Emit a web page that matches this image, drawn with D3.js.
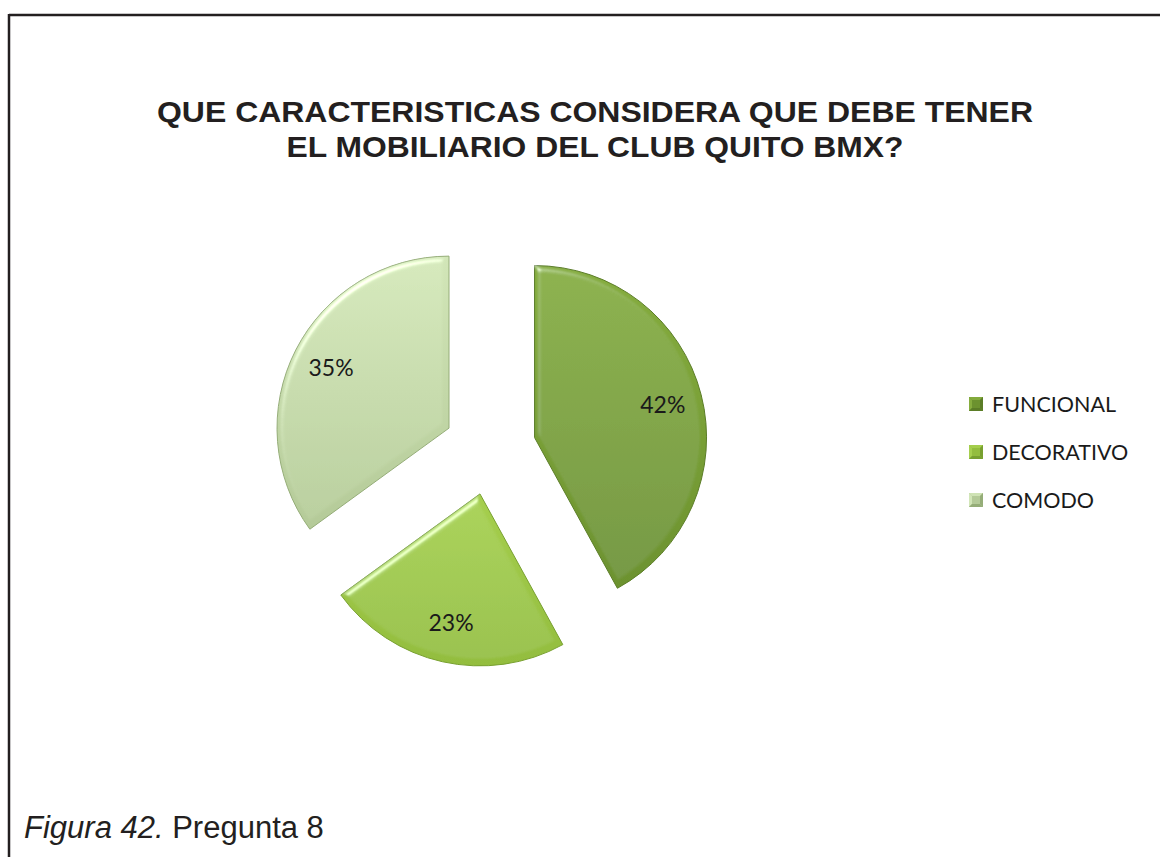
<!DOCTYPE html>
<html>
<head>
<meta charset="utf-8">
<script src="https://cdn.jsdelivr.net/npm/d3@7"></script>
<style>
  html, body { margin: 0; padding: 0; background: #fff; }
  svg { display: block; }
</style>
</head>
<body>
<svg id="chart" width="1160" height="857"></svg>
<script>
// Survey answers, question 8
const categories = ["FUNCIONAL", "DECORATIVO", "COMODO"];
const values = [42, 23, 35];
const percentLabels = ["42%", "23%", "35%"];
const titleLines = ["QUE CARACTERISTICAS CONSIDERA QUE DEBE TENER", "EL MOBILIARIO DEL CLUB QUITO BMX?"];

const palette = {
  FUNCIONAL:  { top: "#86ad3e", bottom: "#6c922f", edge: "#5b7d27" },
  DECORATIVO: { top: "#a6cf4e", bottom: "#93bd3e", edge: "#78a030" },
  COMODO:     { top: "#d2e6b8", bottom: "#b4ca98", edge: "#95ad78" }
};

const svg = d3.select("#chart");
const defs = svg.append("defs");

// frame: top and left rules
svg.append("line").attr("x1", 9).attr("y1", 15).attr("x2", 1160).attr("y2", 15)
  .attr("stroke", "#231f20").attr("stroke-width", 2.5);
svg.append("line").attr("x1", 9).attr("y1", 14).attr("x2", 9).attr("y2", 857)
  .attr("stroke", "#231f20").attr("stroke-width", 2.5);

// title
const title = svg.append("text")
  .attr("text-anchor", "middle")
  .attr("font-family", "Liberation Sans, Arial, sans-serif")
  .attr("font-weight", "bold")
  .attr("font-size", 30)
  .attr("fill", "#231f20");
const titleWidths = [876, 617];
titleLines.forEach((t, i) => {
  title.append("tspan").attr("x", 595).attr("y", 122 + i * 35)
    .attr("textLength", titleWidths[i]).attr("lengthAdjust", "spacingAndGlyphs")
    .text(t);
});

// bevel filter: soft highlight on upper-left edges, shade on lower-right
const bevel = defs.append("filter").attr("id", "bevel")
  .attr("x", "-10%").attr("y", "-10%").attr("width", "120%").attr("height", "120%");
bevel.append("feGaussianBlur").attr("in", "SourceAlpha").attr("stdDeviation", 3).attr("result", "blur");
const spec = bevel.append("feSpecularLighting").attr("in", "blur")
  .attr("surfaceScale", 4).attr("specularConstant", 0.6).attr("specularExponent", 28)
  .attr("lighting-color", "#ffffff").attr("result", "spec");
spec.append("feDistantLight").attr("azimuth", 235).attr("elevation", 40);
bevel.append("feComposite").attr("in", "spec").attr("in2", "SourceAlpha").attr("operator", "in").attr("result", "specOut");
bevel.append("feComposite").attr("in", "SourceGraphic").attr("in2", "specOut")
  .attr("operator", "arithmetic").attr("k1", 0).attr("k2", 1).attr("k3", 0.8).attr("k4", 0);

// gradients per category
categories.forEach((c, i) => {
  const g = defs.append("linearGradient").attr("id", "grad" + i)
    .attr("x1", 0).attr("y1", 0).attr("x2", 0).attr("y2", 1);
  g.append("stop").attr("offset", "0%").attr("stop-color", palette[c].top);
  g.append("stop").attr("offset", "100%").attr("stop-color", palette[c].bottom);
});

// exploded pie
const cx = 490, cy = 449, radius = 172, explode = 46;
const pie = d3.pie().sort(null).value(d => d.value);
const arcs = pie(categories.map((c, i) => ({ name: c, value: values[i], label: percentLabels[i], idx: i })));
const arc = d3.arc().innerRadius(0).outerRadius(radius);
const labelArc = d3.arc().innerRadius(radius * 0.77).outerRadius(radius * 0.77);

const pieG = svg.append("g").attr("transform", `translate(${cx},${cy})`);
const slice = pieG.selectAll("g.slice").data(arcs).join("g")
  .attr("class", "slice")
  .attr("transform", d => {
    const a = (d.startAngle + d.endAngle) / 2;
    return `translate(${Math.sin(a) * explode},${-Math.cos(a) * explode})`;
  });

slice.append("path")
  .attr("d", arc)
  .attr("fill", d => `url(#grad${d.data.idx})`)
  .attr("stroke", d => palette[d.data.name].edge)
  .attr("stroke-width", 1)
  .attr("filter", "url(#bevel)");

slice.append("text")
  .attr("transform", d => `translate(${labelArc.centroid(d)})`)
  .attr("text-anchor", "middle")
  .attr("dy", "0.36em")
  .attr("font-family", "Lato, Carlito, sans-serif")
  .attr("font-size", 23)
  .attr("fill", "#1a1a1a")
  .text(d => d.data.label);

// legend
const legendY = d3.scalePoint().domain(categories).range([404, 500]);
const legend = svg.append("g");
const item = legend.selectAll("g").data(categories).join("g")
  .attr("transform", d => `translate(969,${legendY(d)})`);
const s = 14;
item.append("rect").attr("x", 0).attr("y", -s / 2).attr("width", s).attr("height", s)
  .attr("fill", d => palette[d].bottom);
// pyramid-style marker facets
item.append("path").attr("d", `M0,${-s/2}L${s},${-s/2}L${s-3},${-s/2+3}L3,${-s/2+3}Z`)
  .attr("fill", d => palette[d].top).attr("opacity", 0.9);
item.append("path").attr("d", `M0,${-s/2}L3,${-s/2+3}L3,${s/2-3}L0,${s/2}Z`)
  .attr("fill", d => palette[d].top);
item.append("path").attr("d", `M${s},${-s/2}L${s},${s/2}L${s-3},${s/2-3}L${s-3},${-s/2+3}Z`)
  .attr("fill", d => palette[d].edge);
item.append("path").attr("d", `M0,${s/2}L${s},${s/2}L${s-3},${s/2-3}L3,${s/2-3}Z`)
  .attr("fill", d => palette[d].edge);
item.append("text").attr("x", 23).attr("y", 0).attr("dy", "0.36em")
  .attr("font-family", "Lato, Carlito, sans-serif")
  .attr("font-size", 21.5)
  .attr("fill", "#1a1a1a")
  .text(d => d);

// caption
const cap = svg.append("text")
  .attr("x", 24).attr("y", 838)
  .attr("font-family", "Liberation Sans, Arial, sans-serif")
  .attr("font-size", 31)
  .attr("fill", "#231f20");
cap.append("tspan").attr("font-style", "italic").text("Figura 42.");
cap.append("tspan").text(" Pregunta 8");
</script>
</body>
</html>
